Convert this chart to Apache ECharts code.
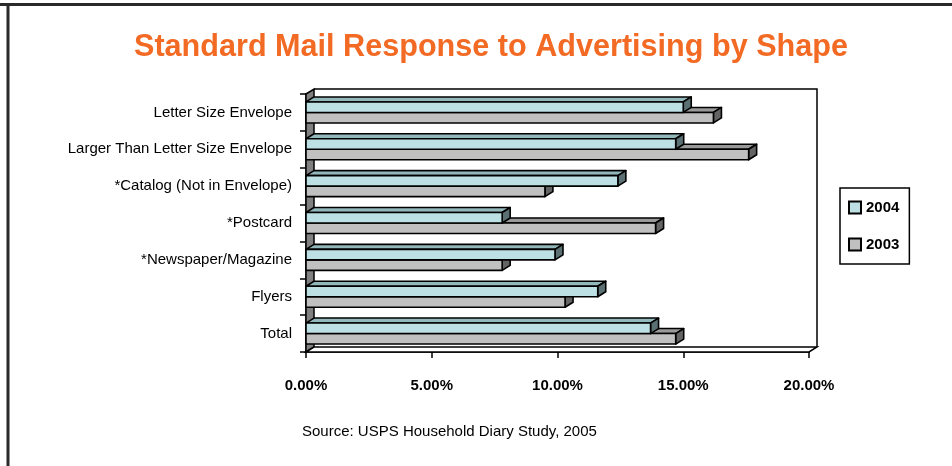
<!DOCTYPE html>
<html><head><meta charset="utf-8">
<script src="https://cdn.jsdelivr.net/npm/echarts@6/dist/echarts.min.js"></script>
<style>html,body{margin:0;padding:0;background:#fff}#c{width:952px;height:466px}</style>
</head><body><div id="c"></div>
<script>
const categories = ['Letter Size Envelope','Larger Than Letter Size Envelope','*Catalog (Not in Envelope)','*Postcard','*Newspaper/Magazine','Flyers','Total'];
const values2004 = [15.0, 14.7, 12.4, 7.8, 9.9, 11.6, 13.7];
const values2003 = [16.2, 17.6, 9.5, 13.9, 7.8, 10.3, 14.7];
const xTicks = [0, 5, 10, 15, 20];

const DX = 8, DY = 5, BH = 10.5;
const colors = {
  '2004': {front:'#bde0e4', top:'#93b8bc', side:'#5b7072'},
  '2003': {front:'#c0c0c0', top:'#9a9a9a', side:'#646464'}
};
function barRenderer(name, offsetSign) {
  return function(params, api) {
    const c = colors[name];
    const v = api.value(0), idx = api.value(1);
    const p0 = api.coord([0, idx]);
    const p1 = api.coord([v, idx]);
    const yc = p0[1];
    const y0 = offsetSign < 0 ? yc - BH : yc;
    const y1 = y0 + BH;
    const x0 = p0[0], x1 = p1[0];
    const st = {stroke:'#000', lineWidth:1.6, lineJoin:'round'};
    return {type:'group', children:[
      {type:'polygon', shape:{points:[[x0,y0],[x0+DX,y0-DY],[x1+DX,y0-DY],[x1,y0]]}, style:Object.assign({fill:c.top}, st)},
      {type:'polygon', shape:{points:[[x1,y0],[x1+DX,y0-DY],[x1+DX,y1-DY],[x1,y1]]}, style:Object.assign({fill:c.side}, st)},
      {type:'rect', shape:{x:x0, y:y0, width:x1-x0, height:BH}, style:Object.assign({fill:c.front}, st)}
    ]};
  };
}
function frameRenderer(params, api) {
  const tl = api.coord([0, 0]);
  const br = api.coord([20, categories.length - 1]);
  const band = api.size([0, 1])[1];
  const top = tl[1] - band / 2, bottom = br[1] + band / 2;
  const left = tl[0], right = br[0];
  const st = {stroke:'#000', lineWidth:1.5};
  return {type:'group', children:[
    {type:'polyline', shape:{points:[[left+DX, top-DY],[right+DX, top-DY],[right+DX, bottom-DY]]}, style:Object.assign({fill:null}, st)},
    {type:'polygon', shape:{points:[[left,top],[left+DX,top-DY],[left+DX,bottom-DY],[left,bottom]]}, style:Object.assign({fill:'#808080'}, st)},
    {type:'polygon', shape:{points:[[left,bottom],[left+DX,bottom-DY],[right+DX,bottom-DY],[right,bottom]]}, style:Object.assign({fill:'#ffffff'}, st)}
  ]};
}

const chart = echarts.init(document.getElementById('c'), null, {renderer:'canvas'});
chart.setOption({
  backgroundColor:'#fff',
  animation:false,
  title:{text:'Standard Mail Response to Advertising by Shape', left:486, textAlign:'center', top:27,
    textStyle:{color:'#f26a24', fontSize:30.6, fontWeight:'bold', fontFamily:'Liberation Sans, Arial, sans-serif'}},
  grid:{left:306, right:143, top:94, bottom:114},
  legend:{orient:'vertical', left:840, top:188, width:82, height:74, itemWidth:12, itemHeight:12, itemGap:22,
    padding:[12, 10, 12, 8], borderColor:'#000', borderWidth:1.5, icon:'rect',
    data:['2004','2003'],
    textStyle:{fontSize:15, fontWeight:'bold', color:'#000', fontFamily:'Liberation Sans, Arial, sans-serif'}},
  xAxis:{type:'value', min:0, max:20, interval:5,
    axisLine:{show:true, lineStyle:{color:'#000', width:1.5}},
    axisTick:{show:true, length:6, lineStyle:{color:'#000', width:1.5}},
    splitLine:{show:false},
    axisLabel:{margin:26, color:'#000', fontSize:15, fontWeight:'bold', fontFamily:'Liberation Sans, Arial, sans-serif',
      formatter: v => xTicks.indexOf(v) >= 0 ? v.toFixed(2) + '%' : ''}},
  yAxis:{type:'category', data:categories, inverse:true,
    axisLine:{show:true, lineStyle:{color:'#000', width:1.5}},
    axisTick:{show:true, length:6, lineStyle:{color:'#000', width:1.5}},
    axisLabel:{margin:14, color:'#000', fontSize:15, fontFamily:'Liberation Sans, Arial, sans-serif'}},
  graphic:[
    {type:'line', shape:{x1:0, y1:4.5, x2:952, y2:4.5}, style:{stroke:'#2a2a2a', lineWidth:3}, z:100},
    {type:'line', shape:{x1:8, y1:3, x2:8, y2:466}, style:{stroke:'#2a2a2a', lineWidth:3}, z:100},
    {type:'text', left:302, top:424, style:{text:'Source: USPS Household Diary Study, 2005', fill:'#000', fontSize:15, fontFamily:'Liberation Sans, Arial, sans-serif'}}
  ],
  series:[
    {type:'custom', name:'frame', renderItem:frameRenderer, data:[[0, 0]], z:1, silent:true},
    {type:'custom', name:'2003', renderItem:barRenderer('2003', 1), z:2,
      itemStyle:{color:colors['2003'].front, borderColor:'#000', borderWidth:1.3},
      encode:{x:0, y:1}, data: values2003.map((v, i) => [v, i])},
    {type:'custom', name:'2004', renderItem:barRenderer('2004', -1), z:3,
      itemStyle:{color:colors['2004'].front, borderColor:'#000', borderWidth:1.3},
      encode:{x:0, y:1}, data: values2004.map((v, i) => [v, i])}
  ]
});
</script></body></html>
